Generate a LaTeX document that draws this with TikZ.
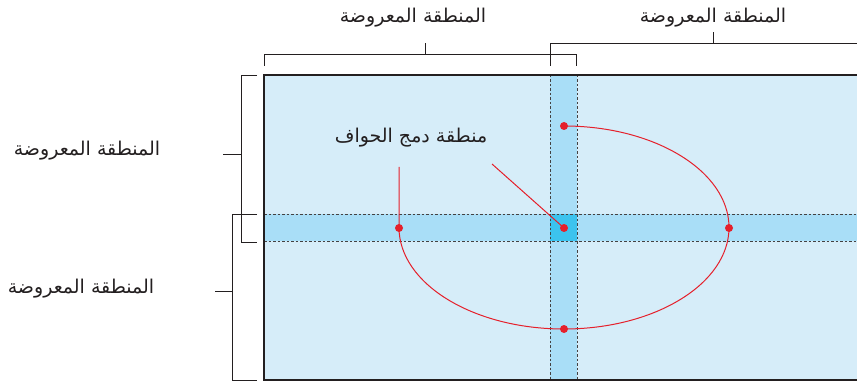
\documentclass[tikz,border=0pt]{standalone}
\usepackage{fontspec}
\newfontfamily\arabicfont[Script=Arabic]{DejaVu Sans}
\TeXXeTstate=1
\definecolor{areafill}{HTML}{D6EDF9}
\definecolor{bandfill}{HTML}{A9DEF7}
\definecolor{corefill}{HTML}{3CC3EE}
\definecolor{inkgray}{HTML}{231F20}
\definecolor{markred}{HTML}{E5202B}
\begin{document}
\begin{tikzpicture}[x=1pt,y=-1pt,
  bracketline/.style={draw=inkgray,line width=0.9pt},
  edgedash/.style={draw=inkgray!85,line width=0.9pt,dash pattern=on 2.5pt off 2pt},
  redline/.style={draw=markred,line width=1pt},
  reddot/.style={circle,fill=markred,inner sep=0pt,minimum size=8pt},
  arlabel/.style={font=\arabicfont\fontsize{19}{21}\selectfont,text=inkgray,inner sep=0pt}]
\useasboundingbox (0,0) rectangle (857,382);
\clip (0,0) rectangle (857,382);
% screen
\fill[areafill] (264,75) rectangle (880,380);
\fill[bandfill] (550,75) rectangle (577,380);
\fill[bandfill] (264,214) rectangle (880,241);
\fill[corefill] (550,214) rectangle (577,241);
\draw[edgedash] (550,75) -- (550,380);
\draw[edgedash] (577,75) -- (577,380);
\draw[edgedash] (264,214) -- (880,214);
\draw[edgedash] (264,241) -- (880,241);
\draw[draw=inkgray,line width=2.2pt] (880,75) -- (264,75) -- (264,380) -- (880,380);
% labels
\node[arlabel] (tl) at (413,18) {\beginR المنطقة المعروضة\endR};
\node[arlabel] (tr) at (713,18) {\beginR المنطقة المعروضة\endR};
\node[arlabel] (lu) at (87,151) {\beginR المنطقة المعروضة\endR};
\node[arlabel] (ll) at (81,289) {\beginR المنطقة المعروضة\endR};
\node[arlabel] (blend) at (411,138) {\beginR منطقة دمج الحواف\endR};
% brackets
\coordinate (tlt) at (425,43);
\coordinate (trt) at (713,32);
\coordinate (lut) at (223,154);
\coordinate (llt) at (215,291);
\draw[bracketline] (264,66) -- (264,54) -- (576,54) -- (576,66);
\draw[bracketline] (425,54) -- (tlt);
\draw[bracketline] (550,66) -- (550,43) -- (880,43);
\draw[bracketline] (713,43) -- (trt);
\draw[bracketline] (257,75) -- (241,75) -- (241,242) -- (257,242);
\draw[bracketline] (241,154) -- (lut);
\draw[bracketline] (257,214) -- (232,214) -- (232,380) -- (257,380);
\draw[bracketline] (232,291) -- (llt);
% red markers
\coordinate (ctr) at (564,228);
\node[reddot] (dtop) at (564,126) {};
\node[reddot] (dright) at (729,228) {};
\node[reddot] (dbot) at (564,329) {};
\node[reddot] (dleft) at (399,228) {};
\node[reddot] (dctr) at (ctr) {};
\coordinate (vtop) at (399,167);
\coordinate (diagtop) at (492,164);
\draw[redline] (dtop.center) arc[start angle=-90,end angle=180,x radius=165,y radius=101.5] -- (vtop);
\draw[redline] (diagtop) -- (dctr.center);
\end{tikzpicture}
\end{document}
